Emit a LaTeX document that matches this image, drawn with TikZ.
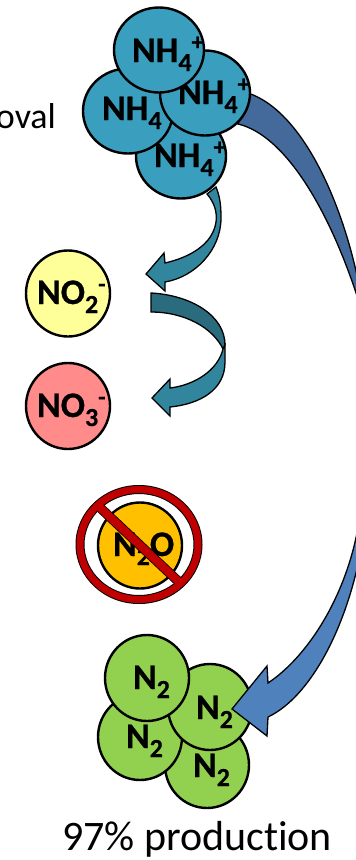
\documentclass[tikz,border=0pt]{standalone}
\usepackage{fontspec}
\setmainfont[BoldFeatures={FakeBold=0.6}]{Carlito}
\usetikzlibrary{shapes.geometric}
\definecolor{nhteal}{HTML}{3A9FBF}
\definecolor{arrowteal}{HTML}{31859C}
\definecolor{arrowdark}{HTML}{2A6B7E}
\definecolor{bluedark}{HTML}{436A9B}
\definecolor{bluelight}{HTML}{4F81BD}
\definecolor{ngreen}{HTML}{92D050}
\definecolor{noyellow}{HTML}{FFFF99}
\definecolor{nored}{HTML}{FF8B8B}
\definecolor{norange}{HTML}{FFC000}
\definecolor{banred}{HTML}{C00000}
\newcommand{\chemtxt}[3]{\fontsize{36}{36}\selectfont\bfseries #1\raisebox{-9pt}{\fontsize{26}{26}\selectfont #2}\raisebox{12pt}{\fontsize{24}{24}\selectfont #3}}
\tikzset{
  ball/.style={ellipse,draw=black,line width=2.4pt,inner sep=0pt,outer sep=0pt,minimum width=84pt,minimum height=86pt},
  bigball/.style={ball,minimum width=90pt,minimum height=85pt},
  chem/.style={anchor=base west,inner sep=0pt,outer sep=0pt},
  plain/.style={anchor=base,inner sep=0pt,outer sep=0pt,font=\fontsize{42}{42}\selectfont},
  arrowline/.style={draw=black,line width=1.3pt,line join=miter},
}
\begin{document}
\begin{tikzpicture}[x=1pt,y=-1pt]
\useasboundingbox (0,0) rectangle (356,860);
% big arrow, upper part
\fill[bluedark,arrowline] (248,93) .. controls (305,112) and (345,210) .. (360,290) -- (360,305) .. controls (330,210) and (285,135) .. (238,124) -- cycle;
% NH4 group
\node[bigball,fill=nhteal] (nhb) at (181,156) {};
\node[chem] (nhbt) at (154,167) {\chemtxt{NH}{4}{+}};
\node[bigball,fill=nhteal] (nhl) at (128,111) {};
\node[chem] (nhlt) at (102,120) {\chemtxt{NH}{4}{}};
\node[bigball,fill=nhteal] (nhr) at (205,93) {};
\node[chem] (nhrt) at (178,104) {\chemtxt{NH}{4}{+}};
\node[bigball,fill=nhteal] (nht) at (159,50) {};
\node[chem] (ntt) at (132,62) {\chemtxt{NH}{4}{+}};
% small arrows
\fill[arrowteal,arrowline] (207,194) .. controls (216,204) and (222,222) .. (208,240) .. controls (198,252) and (182,259) .. (165,263) -- (164,253) -- (146,274) -- (165,291) -- (165,282) .. controls (195,277) and (221,250) .. (221,218) .. controls (221,205) and (220,197) .. (216,187) -- cycle;
\fill[arrowdark,arrowline] (151,293) .. controls (190,295) and (225,315) .. (225,345) -- (223,349) .. controls (213,328) and (185,312) .. (151,312) -- cycle;
\fill[arrowteal,arrowline] (223,349) .. controls (218,370) and (195,385) .. (170,388) -- (170,379) -- (152,398) -- (170,416) -- (170,407) .. controls (200,404) and (225,390) .. (225,362) -- (225,345) -- cycle;
% NO circles
\node[ball,fill=noyellow] (no2) at (68,293.5) {};
\node[chem] (no2t) at (37,304) {\chemtxt{NO}{2}{-}};
\node[ball,fill=nored] (no3) at (68,406) {};
\node[chem] (no3t) at (37,417) {\chemtxt{NO}{3}{-}};
% N2O
\node[ball,fill=norange] (n2o) at (140,545.5) {};
\node[chem] (n2ot) at (113,556) {\chemtxt{N}{2}{}\fontsize{36}{36}\selectfont\bfseries O};
\draw[black,line width=2pt] (139,544.5) ellipse [x radius=62.5,y radius=58.5] (139,544.5) ellipse [x radius=55.5,y radius=51.5];
\draw[black,line width=1.6pt] (101,503) -- (185,582) -- (179.5,588) -- (95.5,509) -- cycle;
\fill[banred,even odd rule] (139,544.5) ellipse [x radius=62.5,y radius=58.5] (139,544.5) ellipse [x radius=55.5,y radius=51.5];
\fill[banred] (101,503) -- (185,582) -- (179.5,588) -- (95.5,509) -- cycle;
% N2 group
\node[ball,fill=ngreen] (n2b) at (207,765) {};
\node[chem] (n2bt) at (193,777) {\chemtxt{N}{2}{}};
\node[ball,fill=ngreen] (n2l) at (140,737) {};
\node[chem] (n2lt) at (126,748) {\chemtxt{N}{2}{}};
\node[ball,fill=ngreen] (n2r) at (210,707) {};
\node[chem] (n2rt) at (196,719) {\chemtxt{N}{2}{}};
\node[ball,fill=ngreen] (n2t) at (147,678) {};
\node[chem] (n2tt) at (133,689) {\chemtxt{N}{2}{}};
% big arrow, lower part over the circles
\fill[bluelight,arrowline] (360,515) .. controls (350,590) and (310,655) .. (268,683) -- (267,666) -- (232,709) -- (267,736) -- (268,717) .. controls (310,697) and (345,630) .. (360,555) -- cycle;
% labels
\node[plain,anchor=base east,font=\fontsize{36}{36}\selectfont] (oval) at (56,128) {oval};
\node[plain,anchor=base west] (prod) at (62,850) {97\% product\kern0pt ion};
\end{tikzpicture}
\end{document}
